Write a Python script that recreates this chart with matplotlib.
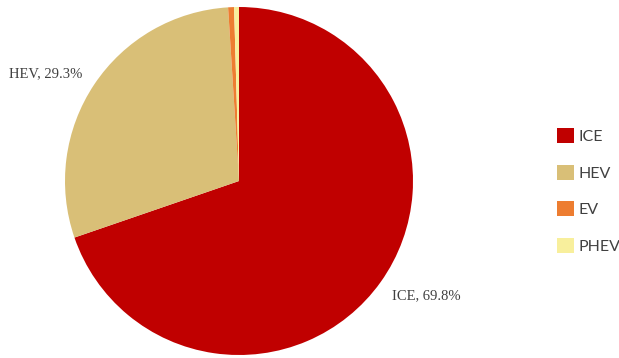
import matplotlib
matplotlib.use('Agg')
import matplotlib.pyplot as plt
from matplotlib.patches import Patch

# vehicle share by powertrain
categories = ['ICE', 'HEV', 'EV', 'PHEV']
shares = [69.8, 29.3, 0.55, 0.45]
colors = ['#C00000', '#D9BF77', '#ED7D31', '#F8EF9C']
shown = ['ICE', 'HEV']

W, H = 619, 358
fig = plt.figure(figsize=(W / 100, H / 100), dpi=100)

cx, cy, r = 239, 181, 174
ax = fig.add_axes([(cx - r) / W, (H - cy - r) / H, 2 * r / W, 2 * r / H])
ax.pie(shares, colors=colors, startangle=90, counterclock=False,
       wedgeprops=dict(linewidth=0))
ax.set_xlim(-1, 1)
ax.set_ylim(-1, 1)
ax.set_aspect('equal')
ax.axis('off')

# data labels placed outside the slices
lab_pos = {'HEV': (46, 74), 'ICE': (426, 296)}
for name, val in zip(categories, shares):
    if name in shown:
        x, y = lab_pos[name]
        fig.text(x / W, 1 - y / H, '{}, {:.1f}%'.format(name, val),
                 ha='center', va='center', fontsize=10.5,
                 family='Liberation Serif', color='#404040')

handles = [Patch(facecolor=c, edgecolor='none') for c in colors]
fig.legend(handles, categories, loc='center left',
           bbox_to_anchor=(543 / W, 1 - 191 / H), frameon=False,
           prop=dict(family='Lato', size=11.5), labelcolor='#404040',
           handlelength=1.05, handleheight=1.05, handletextpad=0.25,
           labelspacing=1.3)

fig.savefig('out.png', dpi=100)
